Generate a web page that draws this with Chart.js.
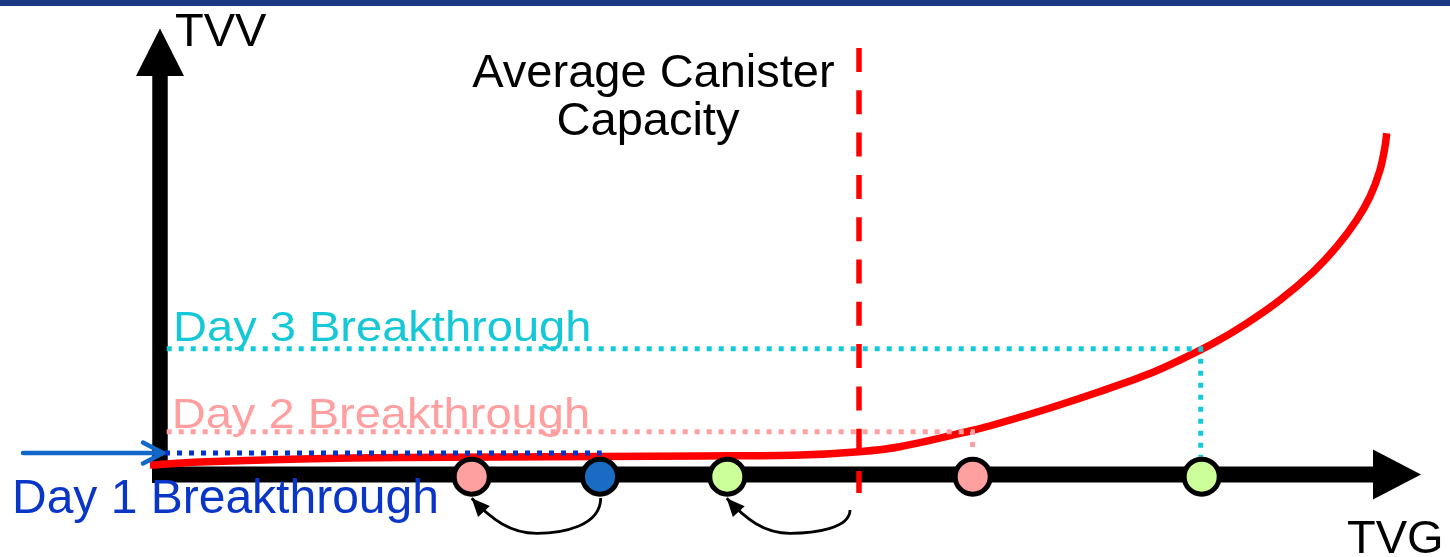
<!DOCTYPE html>
<html>
<head>
<meta charset="utf-8">
<script src="https://cdn.jsdelivr.net/npm/chart.js@4.4.1/dist/chart.umd.min.js"></script>
<style>
  html, body { margin: 0; padding: 0; background: #ffffff; }
  canvas { display: block; }
</style>
</head>
<body>
<canvas id="chart" width="1450" height="557"></canvas>
<script>
// Canister breakthrough: TVV (vertical) against TVG (horizontal)
const curveTVG = [-1.0, 4.0, 14.0, 24.0, 34.0, 44.0, 54.0, 64.0, 69.9, 74.0, 81.2, 84.0,
                  89.0, 94.0, 99.0, 102.0, 105.33, 108.67, 112.0, 115.33, 117.67, 119.67,
                  121.0, 122.0, 122.5, 122.67];
const curveTVV = [0.95, 1.25, 1.55, 1.7, 1.75, 1.8, 1.85, 1.95, 2.28, 2.78, 4.4, 5.15,
                  6.65, 8.3, 10.1, 11.45, 13.12, 15.12, 17.45, 20.28, 22.78, 25.45,
                  27.78, 30.45, 32.78, 34.12];

// Average canister capacity marker
const capacityTVG = 69.9;
const capacityTVVRange = [42.65, -1.85];

// Daily breakthrough levels (Day 1, Day 2, Day 3)
const dayLabels = ['Day 1 Breakthrough', 'Day 2 Breakthrough', 'Day 3 Breakthrough'];
const breakStartTVG = [0.5, 0.67, 0.67];
const breakTVV = [2.15, 4.28, 12.58];
const breakEndTVG = [44.17, 81.25, 104.07];
const breakDropTVV = [null, 2.25, 1.78];
const dayLabelTVG = [-14.8, 1.17, 1.3];
const dayLabelTVV = [-3.85, 4.65, 13.35];

// Day markers on the TVG axis
const markerTVG = [31.17, 44.0, 56.73, 81.27, 104.17];
const markerTVV = [-0.22, -0.22, -0.22, -0.22, -0.22];

// Shift arrows below the axis: start, lowest point, end
const shiftStartTVG = [44.07, 69.0];
const shiftStartTVV = [-2.35, -3.55];
const shiftLowTVG = [37.67, 63.0];
const shiftLowTVV = [-5.88, -5.88];
const shiftEndTVG = [31.17, 56.67];
const shiftEndTVV = [-2.38, -2.38];

// Axes: line start, arrow base, arrow tip
const tvgAxis = [-0.8, 121.3, 126.1];
const tvvAxis = [-0.85, 39.85, 44.6];

// Day 1 pointer arrow
const pointerTVG = [-13.7, 0.3];

// Text labels
const axisTitles = [
  { text: 'TVV', x: 1.5, y: 42.85, align: 'left' },
  { text: 'TVG', x: 118.7, y: -7.85, align: 'left' }
];
const capacityLines = ['Average Canister', 'Capacity'];
const capacityLineTVG = [49.35, 48.8];
const capacityLineTVV = [38.75, 33.95];

const markerFill = ['#ffa0a0', '#1a6bc4', '#ccff99', '#ffa0a0', '#ccff99'];
const dayColors = ['#0033cc', '#ffa0a0', '#14cad8'];
const dayTextColors = ['#0a36c8', '#ff9f9f', '#14c8d8'];
const FONT = '"Liberation Sans", Arial, Helvetica, sans-serif';

function pts(xs, ys) { return xs.map((x, i) => ({ x: x, y: ys[i] })); }

const datasets = [];

// markers on top
datasets.push({
  data: pts(markerTVG, markerTVV),
  showLine: false,
  pointRadius: 17.5,
  pointHoverRadius: 17.5,
  pointBorderWidth: 5,
  pointBorderColor: '#000000',
  pointBackgroundColor: markerFill,
  order: 0
});

// average capacity dashed line
datasets.push({
  data: [{ x: capacityTVG, y: capacityTVVRange[0] }, { x: capacityTVG, y: capacityTVVRange[1] }],
  showLine: true,
  borderColor: '#ff0000',
  borderWidth: 5.5,
  borderDash: [24, 18.3],
  borderCapStyle: 'butt',
  pointRadius: 0,
  order: 1
});

// breakthrough guide lines
for (let d = 0; d < 3; d++) {
  const line = [
    { x: breakStartTVG[d], y: breakTVV[d] },
    { x: breakEndTVG[d], y: breakTVV[d] }
  ];
  if (breakDropTVV[d] !== null) line.push({ x: breakEndTVG[d], y: breakDropTVV[d] });
  datasets.push({
    data: line,
    showLine: true,
    borderColor: dayColors[d],
    borderWidth: 5,
    borderDash: [5, 7],
    borderCapStyle: 'butt',
    borderJoinStyle: 'miter',
    pointRadius: 0,
    order: 2
  });
}

// Day 1 pointer shaft
datasets.push({
  data: [{ x: pointerTVG[0], y: breakTVV[0] }, { x: pointerTVG[1], y: breakTVV[0] }],
  showLine: true,
  borderColor: '#1168c8',
  borderWidth: 4.5,
  borderCapStyle: 'round',
  pointRadius: 0,
  order: 2
});

// breakthrough curve
datasets.push({
  data: pts(curveTVG, curveTVV),
  showLine: true,
  borderColor: '#ff0000',
  borderWidth: 7.5,
  tension: 0.35,
  borderCapStyle: 'butt',
  pointRadius: 0,
  order: 3
});

// axes
datasets.push({
  data: [{ x: tvgAxis[0], y: 0 }, { x: tvgAxis[1], y: 0 }],
  showLine: true, borderColor: '#000000', borderWidth: 16, borderCapStyle: 'butt',
  pointRadius: 0, order: 4
});
datasets.push({
  data: [{ x: 0, y: tvvAxis[0] }, { x: 0, y: tvvAxis[1] }],
  showLine: true, borderColor: '#000000', borderWidth: 15.5, borderCapStyle: 'butt',
  pointRadius: 0, order: 4
});

function filledHead(ctx, tip, base, halfWidth) {
  const dx = tip[0] - base[0], dy = tip[1] - base[1];
  const len = Math.hypot(dx, dy);
  const nx = -dy / len, ny = dx / len;
  ctx.beginPath();
  ctx.moveTo(tip[0], tip[1]);
  ctx.lineTo(base[0] + nx * halfWidth, base[1] + ny * halfWidth);
  ctx.lineTo(base[0] - nx * halfWidth, base[1] - ny * halfWidth);
  ctx.closePath();
  ctx.fill();
}

const decorations = {
  id: 'decorations',
  beforeDraw(chart) {
    const ctx = chart.ctx;
    ctx.save();
    ctx.fillStyle = '#1c3a84';
    ctx.fillRect(0, 0, chart.width, 6);
    ctx.restore();
  },
  afterDatasetsDraw(chart) {
    const ctx = chart.ctx;
    const sx = chart.scales.x, sy = chart.scales.y;
    const P = (x, y) => [sx.getPixelForValue(x), sy.getPixelForValue(y)];
    ctx.save();

    // axis arrowheads
    ctx.fillStyle = '#000000';
    filledHead(ctx, P(tvgAxis[2], 0), P(tvgAxis[1], 0), 25);
    filledHead(ctx, P(0, tvvAxis[2]), P(0, tvvAxis[1]), 24);

    // Day 1 pointer head
    const tip = P(pointerTVG[1], breakTVV[0]);
    ctx.strokeStyle = '#1168c8';
    ctx.lineWidth = 4.5;
    ctx.lineCap = 'round';
    ctx.lineJoin = 'round';
    ctx.beginPath();
    ctx.moveTo(tip[0] - 20, tip[1] - 10.5);
    ctx.lineTo(tip[0], tip[1]);
    ctx.lineTo(tip[0] - 20, tip[1] + 10.5);
    ctx.stroke();

    // shift arrows under the axis
    ctx.strokeStyle = '#000000';
    ctx.fillStyle = '#000000';
    ctx.lineWidth = 2.8;
    ctx.lineCap = 'butt';
    for (let i = 0; i < shiftStartTVG.length; i++) {
      const S = P(shiftStartTVG[i], shiftStartTVV[i]);
      const B = P(shiftLowTVG[i], shiftLowTVV[i]);
      const E = P(shiftEndTVG[i], shiftEndTVV[i]);
      const c2 = [E[0] + 0.3 * (B[0] - E[0]), E[1] + 0.6 * (B[1] - E[1])];
      ctx.beginPath();
      ctx.moveTo(S[0], S[1]);
      ctx.bezierCurveTo(S[0], S[1] + 0.8 * (B[1] - S[1]), B[0] + 0.4 * (S[0] - B[0]), B[1], B[0], B[1]);
      ctx.bezierCurveTo(B[0] - 0.4 * (B[0] - E[0]), B[1], c2[0], c2[1], E[0], E[1]);
      ctx.stroke();
      const dx = E[0] - c2[0], dy = E[1] - c2[1];
      const len = Math.hypot(dx, dy);
      const base = [E[0] - dx / len * 18, E[1] - dy / len * 18];
      filledHead(ctx, E, base, 8);
    }

    // text
    ctx.textBaseline = 'alphabetic';
    ctx.fillStyle = '#000000';
    ctx.font = '47px ' + FONT;
    axisTitles.forEach(t => {
      const p = P(t.x, t.y);
      ctx.textAlign = t.align;
      ctx.fillText(t.text, p[0], p[1]);
    });
    ctx.textAlign = 'center';
    capacityLines.forEach((t, i) => {
      const p = P(capacityLineTVG[i], capacityLineTVV[i]);
      ctx.fillText(t, p[0], p[1]);
    });

    ctx.textAlign = 'left';
    for (let d = 0; d < 3; d++) {
      const p = P(dayLabelTVG[d], dayLabelTVV[d]);
      ctx.fillStyle = dayTextColors[d];
      if (d === 0) {
        ctx.font = '48px ' + FONT;
        ctx.fillText(dayLabels[d], p[0], p[1]);
      } else {
        ctx.font = '42px ' + FONT;
        ctx.save();
        ctx.translate(p[0], p[1]);
        ctx.scale(1.12, 1);
        ctx.fillText(dayLabels[d], 0, 0);
        ctx.restore();
      }
    }
    ctx.restore();
  }
};

new Chart(document.getElementById('chart'), {
  type: 'scatter',
  data: { datasets: datasets },
  options: {
    responsive: false,
    animation: false,
    devicePixelRatio: 1,
    events: [],
    layout: { padding: 0, autoPadding: false },
    plugins: { legend: { display: false }, tooltip: { enabled: false } },
    elements: { line: { tension: 0 } },
    scales: {
      x: { type: 'linear', min: -16, max: 129, display: false },
      y: { type: 'linear', min: -8.25, max: 47.45, display: false }
    }
  },
  plugins: [decorations]
});
</script>
</body>
</html>
